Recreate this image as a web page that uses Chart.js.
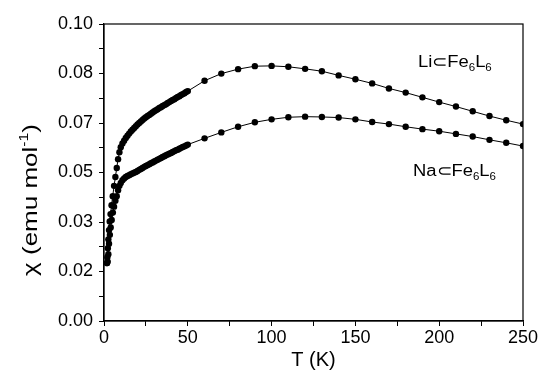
<!DOCTYPE html>
<html>
<head>
<meta charset="utf-8">
<script src="https://cdn.jsdelivr.net/npm/chart.js@4.4.1/dist/chart.umd.min.js"></script>
<style>
  html, body { margin: 0; padding: 0; background: #fff; }
  #wrap { width: 542px; height: 373px; }
</style>
</head>
<body>
<div id="wrap"><canvas id="chi"></canvas></div>
<script>
// temperatures (K) and susceptibility (emu/mol)
const liT = [1.8, 2.0, 2.3, 2.6, 3.0, 3.4, 3.9, 4.5, 5.2, 6.0, 6.8, 7.6, 8.4, 9.2, 10,
  11, 12, 13, 14, 15, 16, 17, 18, 19, 20, 21, 22, 23, 24, 25, 26, 27, 28, 29, 30,
  31, 32, 33, 34, 35, 36, 37, 38, 39, 40, 41, 42, 43, 44, 45, 46, 47, 48, 49, 50,
  60, 70, 80, 90, 100, 110, 120, 130, 140, 150, 160, 170, 180, 190, 200, 210, 220, 230, 240, 250];
const liChi = [0.0195, 0.0215, 0.0245, 0.0275, 0.0306, 0.0335, 0.0360, 0.0390, 0.0420, 0.0455, 0.0485, 0.0515, 0.0545, 0.0568, 0.0585,
  0.0598, 0.0607, 0.0616, 0.0624, 0.0631, 0.0638, 0.0644, 0.0650, 0.0656, 0.0662, 0.0667, 0.0672, 0.0677, 0.0682, 0.0686, 0.0690, 0.0694, 0.0698, 0.0702, 0.0706,
  0.0710, 0.0713, 0.0717, 0.0720, 0.0724, 0.0727, 0.0730, 0.0734, 0.0737, 0.0741, 0.0744, 0.0747, 0.0751, 0.0754, 0.0757, 0.0761, 0.0764, 0.0767, 0.0771, 0.0774,
  0.0809, 0.0833, 0.0848, 0.0858, 0.0859, 0.0856, 0.0849, 0.0841, 0.0827, 0.0814, 0.0800, 0.0783, 0.0769, 0.0753, 0.0737, 0.0722, 0.0706, 0.0690, 0.0676, 0.0663];

const naT = [1.8, 2.2, 2.6, 3.0, 3.5, 4.0, 4.6, 5.3, 6.0, 6.8, 7.6, 8.4, 9.2, 10, 11, 12,
  13, 14, 15, 16, 17, 18, 19, 20, 21, 22, 23, 24, 25, 26, 27, 28, 29, 30,
  31, 32, 33, 34, 35, 36, 37, 38, 39, 40, 41, 42, 43, 44, 45, 46, 47, 48, 49, 50,
  60, 70, 80, 90, 100, 110, 120, 130, 140, 150, 160, 170, 180, 190, 200, 210, 220, 230, 240, 250];
const naChi = [0.0195, 0.0200, 0.0225, 0.0260, 0.0290, 0.0315, 0.0340, 0.0365, 0.0385, 0.0405, 0.0420, 0.0440, 0.0455, 0.0465, 0.0474, 0.0480,
  0.0485, 0.0488, 0.0491, 0.0494, 0.0497, 0.0499, 0.0502, 0.0505, 0.0509, 0.0512, 0.0515, 0.0519, 0.0522, 0.0525, 0.0528, 0.0531, 0.0534, 0.0537,
  0.0540, 0.0543, 0.0546, 0.0549, 0.0552, 0.0555, 0.0558, 0.0561, 0.0563, 0.0566, 0.0569, 0.0572, 0.0575, 0.0577, 0.0580, 0.0583, 0.0586, 0.0588, 0.0591, 0.0594,
  0.0615, 0.0635, 0.0654, 0.0669, 0.0679, 0.0686, 0.0688, 0.0687, 0.0685, 0.0679, 0.0670, 0.0663, 0.0654, 0.0646, 0.0639, 0.0630, 0.0621, 0.0610, 0.0600, 0.0589];

// axis ticks: majors every 1/60 on y (labelled to 2 decimals), minors between
const yTicks = [0, 1/120, 2/120, 3/120, 4/120, 5/120, 6/120, 7/120, 8/120, 9/120, 10/120, 11/120, 12/120];
const yLabels = ["0.00", "0.02", "0.03", "0.05", "0.07", "0.08", "0.10"];
const xTicks = [0, 25, 50, 75, 100, 125, 150, 175, 200, 225, 250];
const xLabels = ["0", "50", "100", "150", "200", "250"];

const seriesNames = ["Li⊂Fe", "Na⊂Fe"];

const FONT = "'Liberation Sans', Arial, sans-serif";

function toPoints(xs, ys) {
  return xs.map((x, i) => ({ x: x, y: ys[i] }));
}

// frame around the plot, curve labels with subscripts, y title with superscript
const framePlugin = {
  id: 'frame',
  afterDraw(chart) {
    const ctx = chart.ctx;
    const a = chart.chartArea;
    ctx.save();
    ctx.strokeStyle = '#000';
    ctx.lineWidth = 1.2;
    ctx.strokeRect(a.left, a.top, a.right - a.left, a.bottom - a.top);
    ctx.fillStyle = '#000';
    ctx.textBaseline = 'alphabetic';

    function label(x, y, name) {
      ctx.save();
      ctx.translate(x, y);
      ctx.scale(1.15, 1);
      let cx = 0;
      ctx.font = '16px ' + FONT;
      ctx.fillText(name, cx, 0);
      cx += ctx.measureText(name).width;
      ctx.font = '10px ' + FONT;
      ctx.fillText('6', cx, 4);
      cx += ctx.measureText('6').width;
      ctx.font = '16px ' + FONT;
      ctx.fillText('L', cx, 0);
      cx += ctx.measureText('L').width;
      ctx.font = '10px ' + FONT;
      ctx.fillText('6', cx, 4);
      ctx.restore();
    }
    label(418, 67, seriesNames[0]);
    label(413, 176, seriesNames[1]);

    // y title: χ (emu mol^-1)
    ctx.save();
    ctx.translate(37, 200);
    ctx.rotate(-Math.PI / 2);
    ctx.scale(1.3, 1);
    const parts = [
      { t: 'χ (emu mol', f: 20, dy: 0 },
      { t: '-1', f: 12, dy: -9 },
      { t: ')', f: 20, dy: 0 }
    ];
    let w = 0;
    parts.forEach(p => { ctx.font = p.f + 'px ' + FONT; w += ctx.measureText(p.t).width; });
    let px = -w / 2;
    parts.forEach(p => {
      ctx.font = p.f + 'px ' + FONT;
      ctx.fillText(p.t, px, p.dy);
      px += ctx.measureText(p.t).width;
    });
    ctx.restore();
    ctx.restore();
  }
};

new Chart(document.getElementById('chi'), {
  type: 'scatter',
  data: {
    datasets: [
      {
        label: seriesNames[0],
        data: toPoints(liT, liChi),
        showLine: true,
        borderColor: '#000',
        borderWidth: 1,
        backgroundColor: '#000',
        pointRadius: 3.2,
        pointBorderWidth: 0,
        tension: 0
      },
      {
        label: seriesNames[1],
        data: toPoints(naT, naChi),
        showLine: true,
        borderColor: '#000',
        borderWidth: 1,
        backgroundColor: '#000',
        pointRadius: 3.2,
        pointBorderWidth: 0,
        tension: 0
      }
    ]
  },
  options: {
    responsive: true,
    maintainAspectRatio: false,
    animation: false,
    layout: { padding: { top: 24, right: 19, left: 0, bottom: 0 } },
    plugins: {
      legend: { display: false },
      tooltip: { enabled: false }
    },
    scales: {
      x: {
        type: 'linear',
        min: 0,
        max: 250,
        afterBuildTicks: s => { s.ticks = xTicks.map(v => ({ value: v })); },
        afterFit: s => { s.height = 52; },
        ticks: {
          autoSkip: false,
          maxRotation: 0,
          color: '#000',
          padding: 1,
          font: { size: 18, family: FONT },
          callback: (v) => (v % 50 === 0 ? xLabels[v / 50] : '')
        },
        grid: { drawOnChartArea: false, tickLength: 5, tickColor: '#000', tickWidth: 1 },
        border: { color: '#000', width: 1.2 },
        title: {
          display: true,
          text: 'T (K)',
          color: '#000',
          font: { size: 20, family: FONT },
          padding: { top: 0, bottom: 1 }
        }
      },
      y: {
        type: 'linear',
        min: 0,
        max: 0.1,
        afterBuildTicks: s => { s.ticks = yTicks.map(v => ({ value: v })); },
        afterFit: s => { s.width = 104; },
        ticks: {
          autoSkip: false,
          color: '#000',
          padding: 6,
          font: { size: 18, family: FONT },
          callback: (v) => {
            const k = Math.round(v * 120);
            return k % 2 === 0 ? yLabels[k / 2] : '';
          }
        },
        grid: { drawOnChartArea: false, tickLength: 5, tickColor: '#000', tickWidth: 1 },
        border: { color: '#000', width: 1.2 },
        title: { display: false }
      }
    }
  },
  plugins: [framePlugin]
});
</script>
</body>
</html>
